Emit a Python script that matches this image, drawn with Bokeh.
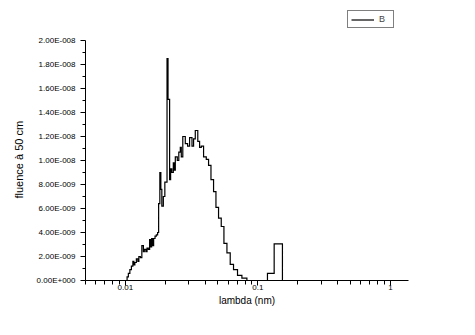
from bokeh.plotting import figure
from bokeh.models import FixedTicker, Legend, LegendItem, Range1d, Title
from bokeh.embed import file_html
from bokeh.resources import INLINE

# Histogram bin edges (wavelength, nm) and bin values (fluence, units of 1e-9)
lambda_edges = [
    0.01030, 0.01053, 0.01081, 0.01110, 0.01139, 0.01159, 0.01179, 0.01210,
    0.01242, 0.01264, 0.01297, 0.01331, 0.01367, 0.01390, 0.01427, 0.01457,
    0.01490, 0.01524, 0.01551, 0.01578, 0.01606, 0.01634, 0.01674, 0.01712,
    0.01751, 0.01782, 0.01820, 0.01852, 0.01884, 0.01934, 0.01985, 0.02062,
    0.02098, 0.02157, 0.02195, 0.02241, 0.02300, 0.02340, 0.02381, 0.02465,
    0.02530, 0.02597, 0.02642, 0.02712, 0.02832, 0.02948, 0.03052, 0.03182,
    0.03271, 0.03369, 0.03519, 0.03631, 0.03739, 0.03891, 0.04078, 0.04244,
    0.04425, 0.04629, 0.04825, 0.05048, 0.05290, 0.05543, 0.05840, 0.06183,
    0.06548, 0.07019, 0.07574, 0.08263, 0.1181, 0.1327, 0.1532,
]
fluence_e9 = [
    0.3, 0.6, 0.9, 1.2, 1.6, 1.3, 1.5, 1.8,
    1.6, 2.0, 1.9, 2.9, 2.4, 2.6, 2.4, 2.7,
    2.6, 3.4, 2.8, 3.5, 2.9, 3.5, 3.7, 3.8,
    4.0, 6.4, 9.0, 7.6, 6.2, 7.0, 8.2, 18.5,
    15.1, 8.4, 9.3, 9.0, 9.8, 9.2, 10.3, 10.0,
    10.7, 11.1, 10.3, 12.0, 11.4, 11.2, 11.9, 11.2,
    11.8, 12.5, 11.6, 11.1, 11.2, 10.3, 10.1, 9.6,
    8.4, 7.4, 6.1, 5.2, 4.5, 3.1, 2.3, 1.35,
    0.9, 0.42, 0.2, 0.0, 0.6, 3.05,
]

y_ticks = [0, 2, 4, 6, 8, 10, 12, 14, 16, 18, 20]
y_tick_labels = ["0.00E+000", "2.00E-009", "4.00E-009", "6.00E-009", "8.00E-009",
                 "1.00E-008", "1.20E-008", "1.40E-008", "1.60E-008", "1.80E-008",
                 "2.00E-008"]
y_minor = [1, 3, 5, 7, 9, 11, 13, 15, 17, 19]
x_ticks = [0.01, 0.1, 1]
x_tick_labels = ["0.01", "0.1", "1"]
x_minor = [0.005, 0.006, 0.007, 0.008, 0.009,
           0.02, 0.03, 0.04, 0.05, 0.06, 0.07, 0.08, 0.09,
           0.2, 0.3, 0.4, 0.5, 0.6, 0.7, 0.8, 0.9]

# step path from the histogram arrays
xs = [lambda_edges[0]]
ys = [0]
for i, v in enumerate(fluence_e9):
    xs += [lambda_edges[i], lambda_edges[i + 1]]
    ys += [v, v]
xs.append(lambda_edges[-1])
ys.append(0)

# frame extends above the axis top (2.0E-008) to leave room for the legend
p = figure(width=475, height=335, x_axis_type="log",
           x_range=Range1d(0.005, 1.37), y_range=Range1d(0, 275 / 12),
           output_backend="svg", toolbar_location=None,
           min_border_left=85, min_border_right=67,
           min_border_top=5, min_border_bottom=55)
p.outline_line_color = None
p.xgrid.visible = False
p.ygrid.visible = False
p.background_fill_color = "white"
p.border_fill_color = "white"

r = p.line(xs, ys, line_color="black", line_width=1.2, line_join="miter")

FONT = "Liberation Sans"
p.xaxis.ticker = FixedTicker(ticks=x_ticks, minor_ticks=x_minor)
p.xaxis.major_label_overrides = dict(zip(x_ticks, x_tick_labels))
p.yaxis.ticker = FixedTicker(ticks=y_ticks, minor_ticks=y_minor)
p.yaxis.major_label_overrides = dict(zip(y_ticks, y_tick_labels))
p.yaxis.bounds = (y_ticks[0], y_ticks[-1])

for ax in (p.xaxis[0], p.yaxis[0]):
    ax.axis_line_color = "black"
    ax.major_tick_line_color = "black"
    ax.minor_tick_line_color = "black"
    ax.major_tick_in = 0
    ax.minor_tick_in = 0
    ax.major_tick_out = 5
    ax.major_label_text_font = FONT
    ax.major_label_text_font_size = "8px"
    ax.major_label_text_color = "black"
    ax.axis_label_text_font = FONT
    ax.axis_label_text_font_style = "normal"
    ax.axis_label_text_color = "black"

p.xaxis.minor_tick_out = 4
p.yaxis.minor_tick_out = 3
p.xaxis.major_label_standoff = -1
p.yaxis.major_label_standoff = 5
p.xaxis.axis_label = "lambda (nm)"
p.xaxis.axis_label_text_font_size = "10px"
p.xaxis.axis_label_standoff = 2

# y-axis title as a left-side Title, placed along the axis extent
ytitle = Title(text="fluence à 50 cm", align="left", offset=82,
               standoff=17, text_font=FONT, text_font_size="11px",
               text_font_style="normal", text_color="black")
p.add_layout(ytitle, "left")

legend = Legend(items=[LegendItem(label="B", renderers=[r])],
                location=(262, 252), margin=0, padding=3, spacing=0,
                glyph_width=23, glyph_height=9, label_height=9,
                label_width=11, label_standoff=5, label_text_font=FONT,
                label_text_font_size="9px", border_line_color="black",
                border_line_width=1, background_fill_color="white",
                background_fill_alpha=1.0)
p.add_layout(legend)

open("out.html", "w").write(file_html(p, INLINE))
